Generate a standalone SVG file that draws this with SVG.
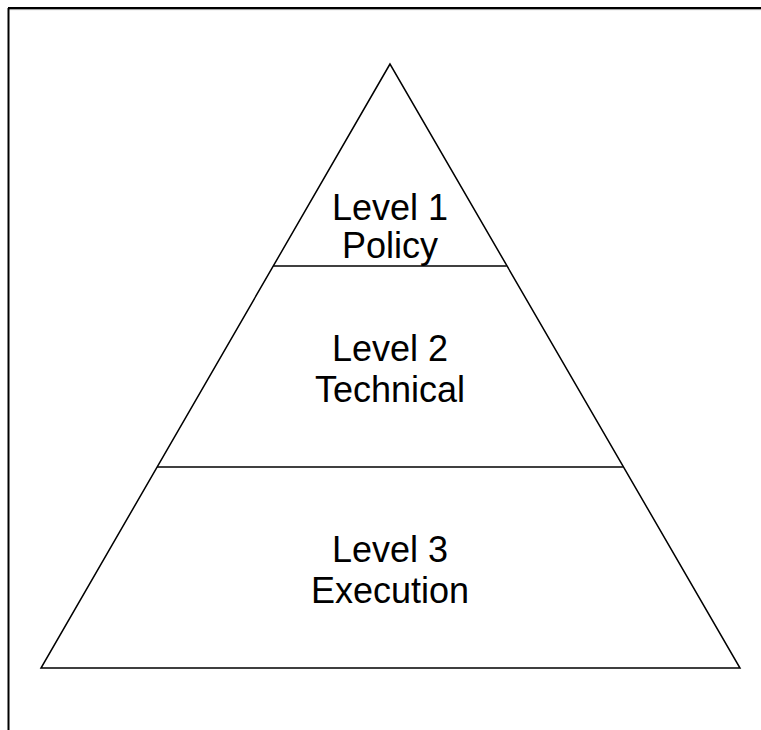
<svg xmlns="http://www.w3.org/2000/svg" width="761" height="730" viewBox="0 0 761 730">
<style>
.ln{stroke:#000;stroke-width:1.5;fill:none}
.t{font-family:"Liberation Sans",Arial,sans-serif;font-size:36px;fill:#000;text-anchor:middle}
</style>
<rect width="761" height="730" fill="#fff"/>
<g id="frame">
<line x1="8" y1="9.6" x2="761" y2="9.6" stroke="#999" stroke-width="1"/>
<line x1="8" y1="8" x2="761" y2="8" stroke="#000" stroke-width="2"/>
<line x1="8.5" y1="8" x2="8.5" y2="730" stroke="#000" stroke-width="2"/>
</g>
<g id="pyramid">
<polygon class="ln" points="390,64 41,668 740,668"/>
</g>
<g id="connectors">
<line class="ln" x1="273.3" y1="266" x2="506.7" y2="266"/>
<line class="ln" x1="157.1" y1="467" x2="622.9" y2="467"/>
</g>
<g id="level1">
<text class="t" x="390" y="220">Level 1</text>
<text class="t" x="390" y="258">Policy</text>
</g>
<g id="level2">
<text class="t" x="390" y="361">Level 2</text>
<text class="t" x="390" y="402">Technical</text>
</g>
<g id="level3">
<text class="t" x="390" y="562">Level 3</text>
<text class="t" x="390" y="603">Execution</text>
</g>
</svg>
